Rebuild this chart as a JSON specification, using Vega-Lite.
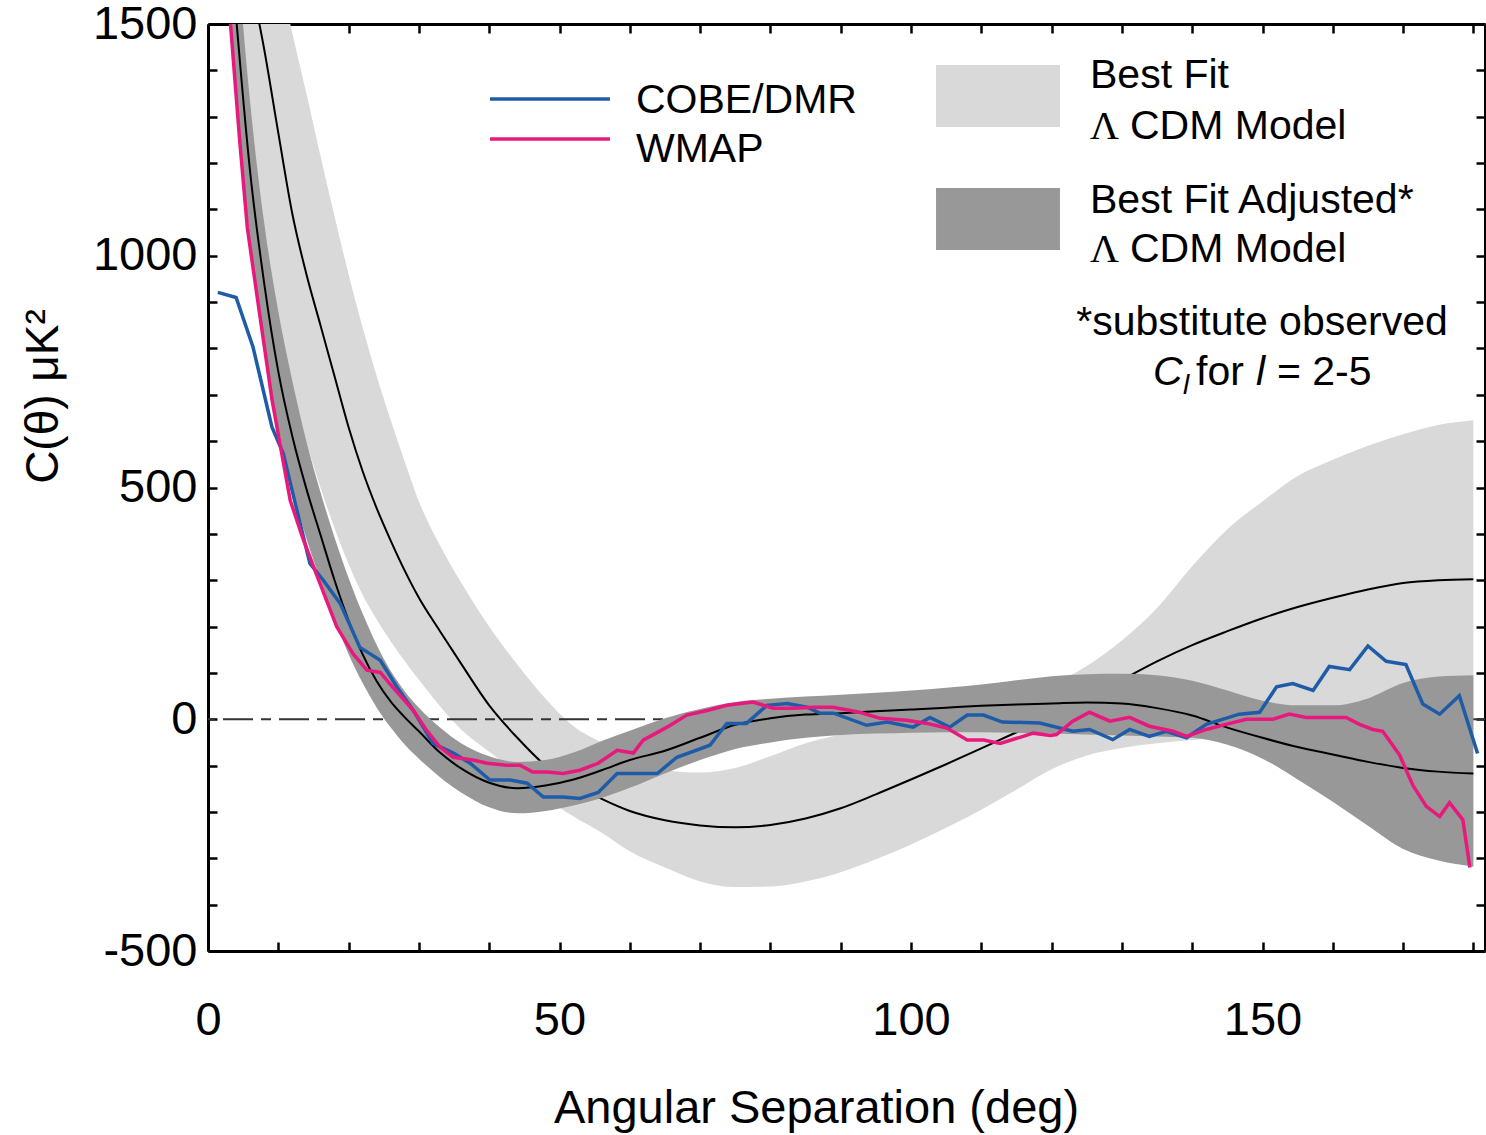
{
  "$schema": "https://vega.github.io/schema/vega-lite/v6.json",
  "width": 1277,
  "height": 927,
  "autosize": "none",
  "padding": {"left": 208, "top": 24, "right": 1, "bottom": 184},
  "background": "white",
  "config": {"view": {"stroke": null}, "font": "Liberation Sans", "text": {"font": "Liberation Sans", "color": "black"}},
  "datasets": {
    "bands": [
      {"deg": 0, "lu": 3000, "lc": 2300, "ll": 2300, "du": 2500, "dc": 2300, "dl": 2100},
      {"deg": 2, "lu": 2700, "lc": 2000, "ll": 1900, "du": 2080, "dc": 1900, "dl": 1720},
      {"deg": 4, "lu": 2400, "lc": 1760, "ll": 1550, "du": 1680, "dc": 1515, "dl": 1350},
      {"deg": 6, "lu": 2100, "lc": 1600, "ll": 1250, "du": 1330, "dc": 1180, "dl": 1030},
      {"deg": 8, "lu": 1800, "lc": 1445, "ll": 1010, "du": 1070, "dc": 940, "dl": 810},
      {"deg": 10, "lu": 1620, "lc": 1265, "ll": 840, "du": 880, "dc": 750, "dl": 630},
      {"deg": 12, "lu": 1480, "lc": 1090, "ll": 715, "du": 730, "dc": 610, "dl": 495},
      {"deg": 14, "lu": 1350, "lc": 960, "ll": 600, "du": 600, "dc": 497, "dl": 390},
      {"deg": 16, "lu": 1215, "lc": 850, "ll": 500, "du": 490, "dc": 398, "dl": 300},
      {"deg": 18, "lu": 1085, "lc": 740, "ll": 412, "du": 392, "dc": 300, "dl": 215},
      {"deg": 20, "lu": 960, "lc": 630, "ll": 335, "du": 305, "dc": 213, "dl": 140},
      {"deg": 22, "lu": 845, "lc": 535, "ll": 268, "du": 228, "dc": 140, "dl": 78},
      {"deg": 24, "lu": 740, "lc": 455, "ll": 215, "du": 160, "dc": 82, "dl": 25},
      {"deg": 26, "lu": 645, "lc": 385, "ll": 168, "du": 104, "dc": 38, "dl": -18},
      {"deg": 28, "lu": 555, "lc": 320, "ll": 125, "du": 60, "dc": 4, "dl": -55},
      {"deg": 30, "lu": 470, "lc": 262, "ll": 85, "du": 25, "dc": -26, "dl": -85},
      {"deg": 33, "lu": 375, "lc": 190, "ll": 28, "du": -18, "dc": -72, "dl": -125},
      {"deg": 36, "lu": 295, "lc": 120, "ll": -22, "du": -52, "dc": -106, "dl": -158},
      {"deg": 40, "lu": 200, "lc": 30, "ll": -70, "du": -80, "dc": -137, "dl": -190},
      {"deg": 44, "lu": 118, "lc": -40, "ll": -115, "du": -92, "dc": -149, "dl": -203},
      {"deg": 48, "lu": 45, "lc": -100, "ll": -170, "du": -88, "dc": -143, "dl": -198},
      {"deg": 52, "lu": -15, "lc": -140, "ll": -210, "du": -72, "dc": -130, "dl": -186},
      {"deg": 56, "lu": -50, "lc": -172, "ll": -245, "du": -47, "dc": -110, "dl": -170},
      {"deg": 60, "lu": -80, "lc": -198, "ll": -285, "du": -25, "dc": -88, "dl": -148},
      {"deg": 65, "lu": -110, "lc": -218, "ll": -320, "du": 2, "dc": -68, "dl": -117},
      {"deg": 70, "lu": -115, "lc": -229, "ll": -350, "du": 22, "dc": -40, "dl": -88},
      {"deg": 75, "lu": -105, "lc": -233, "ll": -362, "du": 37, "dc": -12, "dl": -64},
      {"deg": 80, "lu": -80, "lc": -228, "ll": -361, "du": 44, "dc": 2, "dl": -50},
      {"deg": 85, "lu": -52, "lc": -214, "ll": -350, "du": 49, "dc": 10, "dl": -40},
      {"deg": 90, "lu": -33, "lc": -192, "ll": -330, "du": 53, "dc": 13, "dl": -34},
      {"deg": 95, "lu": -18, "lc": -162, "ll": -302, "du": 57, "dc": 17, "dl": -31},
      {"deg": 100, "lu": -3, "lc": -130, "ll": -270, "du": 62, "dc": 21, "dl": -29},
      {"deg": 105, "lu": 12, "lc": -97, "ll": -234, "du": 68, "dc": 25, "dl": -28},
      {"deg": 110, "lu": 30, "lc": -63, "ll": -195, "du": 75, "dc": 29, "dl": -28},
      {"deg": 115, "lu": 50, "lc": -28, "ll": -152, "du": 84, "dc": 32, "dl": -29},
      {"deg": 120, "lu": 75, "lc": 8, "ll": -108, "du": 93, "dc": 34, "dl": -31},
      {"deg": 125, "lu": 115, "lc": 45, "ll": -78, "du": 97, "dc": 36, "dl": -33},
      {"deg": 130, "lu": 170, "lc": 85, "ll": -62, "du": 98, "dc": 34, "dl": -35},
      {"deg": 135, "lu": 240, "lc": 125, "ll": -52, "du": 95, "dc": 24, "dl": -37},
      {"deg": 140, "lu": 330, "lc": 160, "ll": -45, "du": 83, "dc": 8, "dl": -40},
      {"deg": 145, "lu": 410, "lc": 190, "ll": -40, "du": 62, "dc": -18, "dl": -55},
      {"deg": 150, "lu": 470, "lc": 218, "ll": -40, "du": 40, "dc": -40, "dl": -85},
      {"deg": 155, "lu": 525, "lc": 242, "ll": -35, "du": 30, "dc": -60, "dl": -130},
      {"deg": 160, "lu": 560, "lc": 262, "ll": -30, "du": 30, "dc": -76, "dl": -178},
      {"deg": 165, "lu": 590, "lc": 280, "ll": -30, "du": 45, "dc": -92, "dl": -230},
      {"deg": 170, "lu": 615, "lc": 294, "ll": -30, "du": 78, "dc": -105, "dl": -280},
      {"deg": 175, "lu": 635, "lc": 300, "ll": -30, "du": 92, "dc": -113, "dl": -305},
      {"deg": 180, "lu": 645, "lc": 302, "ll": -30, "du": 95, "dc": -117, "dl": -318}
    ],
    "cobe": [
      {"deg": 1.4, "c": 921}, {"deg": 4.0, "c": 910}, {"deg": 6.4, "c": 803}, {"deg": 9.1, "c": 630},
      {"deg": 10.7, "c": 574}, {"deg": 12.5, "c": 460}, {"deg": 14.5, "c": 336}, {"deg": 16.4, "c": 300},
      {"deg": 18.8, "c": 250}, {"deg": 21.6, "c": 155}, {"deg": 24.5, "c": 127}, {"deg": 26.9, "c": 69},
      {"deg": 29.2, "c": 19}, {"deg": 32.0, "c": -52}, {"deg": 34.9, "c": -73}, {"deg": 37.3, "c": -95},
      {"deg": 40.1, "c": -131}, {"deg": 43.0, "c": -131}, {"deg": 45.4, "c": -138}, {"deg": 47.7, "c": -168},
      {"deg": 50.5, "c": -168}, {"deg": 52.9, "c": -171}, {"deg": 55.5, "c": -158}, {"deg": 58.2, "c": -117},
      {"deg": 63.9, "c": -117}, {"deg": 66.7, "c": -82}, {"deg": 71.4, "c": -56}, {"deg": 73.8, "c": -9},
      {"deg": 76.6, "c": -9}, {"deg": 79.5, "c": 30}, {"deg": 82.4, "c": 34}, {"deg": 85.2, "c": 26},
      {"deg": 87.1, "c": 13}, {"deg": 89.0, "c": 13}, {"deg": 93.7, "c": -13}, {"deg": 96.6, "c": -6},
      {"deg": 100.3, "c": -17}, {"deg": 102.7, "c": 4}, {"deg": 105.5, "c": -17}, {"deg": 108.0, "c": 9},
      {"deg": 110.3, "c": 9}, {"deg": 113.0, "c": -6}, {"deg": 118.3, "c": -8}, {"deg": 123.0, "c": -26},
      {"deg": 125.4, "c": -22}, {"deg": 128.7, "c": -44}, {"deg": 131.1, "c": -22}, {"deg": 133.9, "c": -37},
      {"deg": 136.3, "c": -26}, {"deg": 139.2, "c": -40}, {"deg": 142.0, "c": -11}, {"deg": 146.7, "c": 11},
      {"deg": 149.6, "c": 15}, {"deg": 152.0, "c": 70}, {"deg": 154.3, "c": 77}, {"deg": 157.2, "c": 62},
      {"deg": 159.5, "c": 114}, {"deg": 162.4, "c": 107}, {"deg": 165.0, "c": 158}, {"deg": 167.6, "c": 125},
      {"deg": 170.4, "c": 118}, {"deg": 172.8, "c": 33}, {"deg": 175.2, "c": 11}, {"deg": 178.0, "c": 51},
      {"deg": 180.6, "c": -74}
    ],
    "wmap": [
      {"deg": 1.5, "c": 2000}, {"deg": 3.2, "c": 1500}, {"deg": 4.5, "c": 1250}, {"deg": 5.6, "c": 1060},
      {"deg": 7.1, "c": 900}, {"deg": 9.1, "c": 690}, {"deg": 11.7, "c": 472}, {"deg": 13.5, "c": 390},
      {"deg": 15.5, "c": 310}, {"deg": 18.3, "c": 200}, {"deg": 20.6, "c": 142}, {"deg": 22.6, "c": 106},
      {"deg": 24.5, "c": 101}, {"deg": 26.3, "c": 69}, {"deg": 29.2, "c": 19}, {"deg": 31.1, "c": -24},
      {"deg": 33.0, "c": -60}, {"deg": 34.9, "c": -82}, {"deg": 37.7, "c": -88}, {"deg": 39.7, "c": -95},
      {"deg": 42.5, "c": -99}, {"deg": 44.4, "c": -99}, {"deg": 46.2, "c": -114}, {"deg": 48.2, "c": -114},
      {"deg": 50.5, "c": -117}, {"deg": 52.9, "c": -110}, {"deg": 55.5, "c": -95}, {"deg": 58.2, "c": -67},
      {"deg": 60.5, "c": -73}, {"deg": 61.9, "c": -45}, {"deg": 65.3, "c": -17}, {"deg": 68.1, "c": 9},
      {"deg": 71.0, "c": 19}, {"deg": 73.8, "c": 30}, {"deg": 77.5, "c": 37}, {"deg": 80.4, "c": 24},
      {"deg": 83.2, "c": 24}, {"deg": 86.1, "c": 26}, {"deg": 88.9, "c": 26}, {"deg": 92.7, "c": 15},
      {"deg": 95.6, "c": 2}, {"deg": 99.4, "c": -2}, {"deg": 102.3, "c": -9}, {"deg": 105.1, "c": -19},
      {"deg": 108.0, "c": -45}, {"deg": 110.3, "c": -45}, {"deg": 112.7, "c": -52}, {"deg": 115.5, "c": -39},
      {"deg": 117.4, "c": -30}, {"deg": 119.8, "c": -35}, {"deg": 120.7, "c": -33}, {"deg": 123.0, "c": -4},
      {"deg": 125.4, "c": 15}, {"deg": 128.3, "c": -4}, {"deg": 131.1, "c": 4}, {"deg": 133.9, "c": -15},
      {"deg": 137.3, "c": -26}, {"deg": 139.2, "c": -37}, {"deg": 142.0, "c": -22}, {"deg": 144.8, "c": -11},
      {"deg": 147.7, "c": 0}, {"deg": 151.5, "c": 0}, {"deg": 153.8, "c": 11}, {"deg": 156.2, "c": 4},
      {"deg": 159.0, "c": 4}, {"deg": 161.9, "c": 4}, {"deg": 163.8, "c": -11}, {"deg": 165.7, "c": -22},
      {"deg": 167.1, "c": -26}, {"deg": 169.5, "c": -77}, {"deg": 171.4, "c": -143}, {"deg": 173.3, "c": -188},
      {"deg": 175.2, "c": -210}, {"deg": 176.6, "c": -180}, {"deg": 178.5, "c": -217}, {"deg": 179.5, "c": -320}
    ]
  },
  "layer": [
    {
      "data": {"name": "bands"},
      "mark": {"type": "area", "color": "#d9d9d9", "interpolate": "monotone", "clip": true},
      "encoding": {
        "x": {"field": "deg", "type": "quantitative", "scale": {"domain": [0, 181.65], "nice": false, "zero": false},
          "axis": {"title": "Angular Separation (deg)", "values": [0,10,20,30,40,50,60,70,80,90,100,110,120,130,140,150,160,170,180],
            "labelExpr": "datum.value % 50 === 0 ? '' + datum.value : ''", "tickSize": -9, "tickWidth": 2.5, "tickColor": "black",
            "domainColor": "black", "domainWidth": 3, "labelFontSize": 47, "labelColor": "black", "labelPadding": 55,
            "labelFont": "Liberation Sans", "titleFont": "Liberation Sans", "titleFontSize": 47, "titleFontWeight": "normal",
            "titleColor": "black", "titleX": 608, "titleY": 157, "titleBaseline": "middle", "titleAlign": "center",
            "grid": false, "labelFlush": false, "labelOverlap": false}},
        "y": {"field": "ll", "type": "quantitative", "scale": {"domain": [-500, 1500], "nice": false, "zero": false},
          "axis": {"title": "C(θ) μK²", "values": [-500,-400,-300,-200,-100,0,100,200,300,400,500,600,700,800,900,1000,1100,1200,1300,1400,1500],
            "labelExpr": "datum.value % 500 === 0 ? '' + datum.value : ''", "tickSize": -9, "tickWidth": 2.5, "tickColor": "black",
            "domainColor": "black", "domainWidth": 3, "labelFontSize": 47, "labelColor": "black", "labelPadding": 20,
            "labelFont": "Liberation Sans", "titleFont": "Liberation Sans", "titleFontSize": 46, "titleFontWeight": "normal",
            "titleColor": "black", "titleX": -165, "titleY": 372, "titleAngle": -90, "titleBaseline": "middle", "titleAlign": "center",
            "grid": false, "labelFlush": false, "labelOverlap": false}},
        "y2": {"field": "lu"}
      }
    },
    {
      "data": {"name": "bands"},
      "mark": {"type": "line", "color": "black", "strokeWidth": 2, "interpolate": "monotone", "clip": true},
      "encoding": {
        "x": {"field": "deg", "type": "quantitative", "scale": {"domain": [0, 181.65], "nice": false, "zero": false},
          "axis": {"orient": "top", "title": null, "labels": false, "values": [0,10,20,30,40,50,60,70,80,90,100,110,120,130,140,150,160,170,180],
            "tickSize": -9, "tickWidth": 2.5, "tickColor": "black", "domainColor": "black", "domainWidth": 3, "grid": false}},
        "y": {"field": "lc", "type": "quantitative", "scale": {"domain": [-500, 1500], "nice": false, "zero": false},
          "axis": {"orient": "right", "title": null, "labels": false, "values": [-500,-400,-300,-200,-100,0,100,200,300,400,500,600,700,800,900,1000,1100,1200,1300,1400,1500],
            "tickSize": -9, "tickWidth": 2.5, "tickColor": "black", "domainColor": "black", "domainWidth": 3, "grid": false}}
      }
    },
    {
      "data": {"values": [{}]},
      "mark": {"type": "rule", "color": "#333333", "strokeWidth": 2, "strokeDash": [30, 8, 10, 8]},
      "encoding": {
        "y": {"datum": 0, "type": "quantitative", "scale": {"domain": [-500, 1500], "nice": false, "zero": false}, "axis": null}
      }
    },
    {
      "data": {"name": "bands"},
      "mark": {"type": "area", "color": "#989898", "interpolate": "monotone", "clip": true},
      "encoding": {
        "x": {"field": "deg", "type": "quantitative", "scale": {"domain": [0, 181.65], "nice": false, "zero": false}, "axis": null},
        "y": {"field": "dl", "type": "quantitative", "scale": {"domain": [-500, 1500], "nice": false, "zero": false}, "axis": null},
        "y2": {"field": "du"}
      }
    },
    {
      "data": {"name": "bands"},
      "mark": {"type": "line", "color": "black", "strokeWidth": 2, "interpolate": "monotone", "clip": true},
      "encoding": {
        "x": {"field": "deg", "type": "quantitative", "scale": {"domain": [0, 181.65], "nice": false, "zero": false}, "axis": null},
        "y": {"field": "dc", "type": "quantitative", "scale": {"domain": [-500, 1500], "nice": false, "zero": false}, "axis": null}
      }
    },
    {
      "data": {"name": "cobe"},
      "mark": {"type": "line", "color": "#1f5ca8", "strokeWidth": 3.5, "clip": true},
      "encoding": {
        "x": {"field": "deg", "type": "quantitative", "scale": {"domain": [0, 181.65], "nice": false, "zero": false}, "axis": null},
        "y": {"field": "c", "type": "quantitative", "scale": {"domain": [-500, 1500], "nice": false, "zero": false}, "axis": null}
      }
    },
    {
      "data": {"name": "wmap"},
      "mark": {"type": "line", "color": "#e8197d", "strokeWidth": 3.5, "clip": true},
      "encoding": {
        "x": {"field": "deg", "type": "quantitative", "scale": {"domain": [0, 181.65], "nice": false, "zero": false}, "axis": null},
        "y": {"field": "c", "type": "quantitative", "scale": {"domain": [-500, 1500], "nice": false, "zero": false}, "axis": null}
      }
    },
    {
      "data": {"values": [{}]},
      "mark": {"type": "rule", "color": "#1f5ca8", "strokeWidth": 3.5},
      "encoding": {
        "x": {"datum": 40.11, "type": "quantitative", "scale": {"domain": [0, 181.65], "nice": false, "zero": false}, "axis": null},
        "x2": {"datum": 57.18},
        "y": {"datum": 1338.1, "type": "quantitative", "scale": {"domain": [-500, 1500], "nice": false, "zero": false}, "axis": null}
      }
    },
    {
      "data": {"values": [{}]},
      "mark": {"type": "rule", "color": "#e8197d", "strokeWidth": 3.5},
      "encoding": {
        "x": {"datum": 40.11, "type": "quantitative", "scale": {"domain": [0, 181.65], "nice": false, "zero": false}, "axis": null},
        "x2": {"datum": 57.18},
        "y": {"datum": 1251.8, "type": "quantitative", "scale": {"domain": [-500, 1500], "nice": false, "zero": false}, "axis": null}
      }
    },
    {
      "data": {"values": [{}]},
      "mark": {"type": "rect", "color": "#d9d9d9"},
      "encoding": {
        "x": {"datum": 103.56, "type": "quantitative", "scale": {"domain": [0, 181.65], "nice": false, "zero": false}, "axis": null},
        "x2": {"datum": 121.19},
        "y": {"datum": 1411.4, "type": "quantitative", "scale": {"domain": [-500, 1500], "nice": false, "zero": false}, "axis": null},
        "y2": {"datum": 1277.6}
      }
    },
    {
      "data": {"values": [{}]},
      "mark": {"type": "rect", "color": "#989898"},
      "encoding": {
        "x": {"datum": 103.56, "type": "quantitative", "scale": {"domain": [0, 181.65], "nice": false, "zero": false}, "axis": null},
        "x2": {"datum": 121.19},
        "y": {"datum": 1146.1, "type": "quantitative", "scale": {"domain": [-500, 1500], "nice": false, "zero": false}, "axis": null},
        "y2": {"datum": 1012.3}
      }
    },
    {
      "data": {"values": [{}]},
      "mark": {"type": "text", "text": "COBE/DMR", "align": "left", "baseline": "alphabetic", "fontSize": 41},
      "encoding": {
        "x": {"datum": 60.88, "type": "quantitative", "scale": {"domain": [0, 181.65], "nice": false, "zero": false}, "axis": null},
        "y": {"datum": 1307.8, "type": "quantitative", "scale": {"domain": [-500, 1500], "nice": false, "zero": false}, "axis": null}
      }
    },
    {
      "data": {"values": [{}]},
      "mark": {"type": "text", "text": "WMAP", "align": "left", "baseline": "alphabetic", "fontSize": 41},
      "encoding": {
        "x": {"datum": 60.88, "type": "quantitative", "scale": {"domain": [0, 181.65], "nice": false, "zero": false}, "axis": null},
        "y": {"datum": 1202.1, "type": "quantitative", "scale": {"domain": [-500, 1500], "nice": false, "zero": false}, "axis": null}
      }
    },
    {
      "data": {"values": [{}]},
      "mark": {"type": "text", "text": "Best Fit", "align": "left", "baseline": "alphabetic", "fontSize": 41},
      "encoding": {
        "x": {"datum": 125.46, "type": "quantitative", "scale": {"domain": [0, 181.65], "nice": false, "zero": false}, "axis": null},
        "y": {"datum": 1361.8, "type": "quantitative", "scale": {"domain": [-500, 1500], "nice": false, "zero": false}, "axis": null}
      }
    },
    {
      "data": {"values": [{}]},
      "mark": {"type": "text", "text": "Λ", "align": "left", "baseline": "alphabetic", "fontSize": 40, "font": "Liberation Serif"},
      "encoding": {
        "x": {"datum": 125.46, "type": "quantitative", "scale": {"domain": [0, 181.65], "nice": false, "zero": false}, "axis": null},
        "y": {"datum": 1252.0, "type": "quantitative", "scale": {"domain": [-500, 1500], "nice": false, "zero": false}, "axis": null}
      }
    },
    {
      "data": {"values": [{}]},
      "mark": {"type": "text", "text": "CDM Model", "align": "left", "baseline": "alphabetic", "fontSize": 41},
      "encoding": {
        "x": {"datum": 131.15, "type": "quantitative", "scale": {"domain": [0, 181.65], "nice": false, "zero": false}, "axis": null},
        "y": {"datum": 1252.0, "type": "quantitative", "scale": {"domain": [-500, 1500], "nice": false, "zero": false}, "axis": null}
      }
    },
    {
      "data": {"values": [{}]},
      "mark": {"type": "text", "text": "Best Fit Adjusted*", "align": "left", "baseline": "alphabetic", "fontSize": 41},
      "encoding": {
        "x": {"datum": 125.46, "type": "quantitative", "scale": {"domain": [0, 181.65], "nice": false, "zero": false}, "axis": null},
        "y": {"datum": 1092.1, "type": "quantitative", "scale": {"domain": [-500, 1500], "nice": false, "zero": false}, "axis": null}
      }
    },
    {
      "data": {"values": [{}]},
      "mark": {"type": "text", "text": "Λ", "align": "left", "baseline": "alphabetic", "fontSize": 40, "font": "Liberation Serif"},
      "encoding": {
        "x": {"datum": 125.46, "type": "quantitative", "scale": {"domain": [0, 181.65], "nice": false, "zero": false}, "axis": null},
        "y": {"datum": 986.4, "type": "quantitative", "scale": {"domain": [-500, 1500], "nice": false, "zero": false}, "axis": null}
      }
    },
    {
      "data": {"values": [{}]},
      "mark": {"type": "text", "text": "CDM Model", "align": "left", "baseline": "alphabetic", "fontSize": 41},
      "encoding": {
        "x": {"datum": 131.15, "type": "quantitative", "scale": {"domain": [0, 181.65], "nice": false, "zero": false}, "axis": null},
        "y": {"datum": 986.4, "type": "quantitative", "scale": {"domain": [-500, 1500], "nice": false, "zero": false}, "axis": null}
      }
    },
    {
      "data": {"values": [{}]},
      "mark": {"type": "text", "text": "*substitute observed", "align": "center", "baseline": "alphabetic", "fontSize": 41},
      "encoding": {
        "x": {"datum": 149.93, "type": "quantitative", "scale": {"domain": [0, 181.65], "nice": false, "zero": false}, "axis": null},
        "y": {"datum": 828.9, "type": "quantitative", "scale": {"domain": [-500, 1500], "nice": false, "zero": false}, "axis": null}
      }
    },
    {
      "data": {"values": [{}]},
      "mark": {"type": "text", "text": "C", "align": "left", "baseline": "alphabetic", "fontSize": 41, "fontStyle": "italic"},
      "encoding": {
        "x": {"datum": 134.42, "type": "quantitative", "scale": {"domain": [0, 181.65], "nice": false, "zero": false}, "axis": null},
        "y": {"datum": 721.0, "type": "quantitative", "scale": {"domain": [-500, 1500], "nice": false, "zero": false}, "axis": null}
      }
    },
    {
      "data": {"values": [{}]},
      "mark": {"type": "text", "text": "l", "align": "left", "baseline": "alphabetic", "fontSize": 28, "fontStyle": "italic"},
      "encoding": {
        "x": {"datum": 138.69, "type": "quantitative", "scale": {"domain": [0, 181.65], "nice": false, "zero": false}, "axis": null},
        "y": {"datum": 701.6, "type": "quantitative", "scale": {"domain": [-500, 1500], "nice": false, "zero": false}, "axis": null}
      }
    },
    {
      "data": {"values": [{}]},
      "mark": {"type": "text", "text": "for", "align": "left", "baseline": "alphabetic", "fontSize": 41},
      "encoding": {
        "x": {"datum": 140.54, "type": "quantitative", "scale": {"domain": [0, 181.65], "nice": false, "zero": false}, "axis": null},
        "y": {"datum": 721.0, "type": "quantitative", "scale": {"domain": [-500, 1500], "nice": false, "zero": false}, "axis": null}
      }
    },
    {
      "data": {"values": [{}]},
      "mark": {"type": "text", "text": "l", "align": "left", "baseline": "alphabetic", "fontSize": 41, "fontStyle": "italic"},
      "encoding": {
        "x": {"datum": 149.08, "type": "quantitative", "scale": {"domain": [0, 181.65], "nice": false, "zero": false}, "axis": null},
        "y": {"datum": 721.0, "type": "quantitative", "scale": {"domain": [-500, 1500], "nice": false, "zero": false}, "axis": null}
      }
    },
    {
      "data": {"values": [{}]},
      "mark": {"type": "text", "text": "= 2-5", "align": "left", "baseline": "alphabetic", "fontSize": 41},
      "encoding": {
        "x": {"datum": 152.06, "type": "quantitative", "scale": {"domain": [0, 181.65], "nice": false, "zero": false}, "axis": null},
        "y": {"datum": 721.0, "type": "quantitative", "scale": {"domain": [-500, 1500], "nice": false, "zero": false}, "axis": null}
      }
    }
  ],
  "resolve": {"axis": {"x": "independent", "y": "independent"}}
}
